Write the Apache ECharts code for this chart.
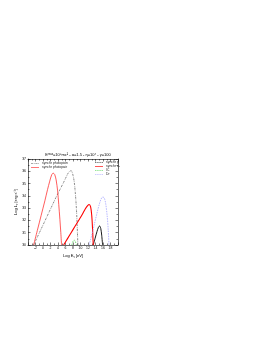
<!DOCTYPE html>
<html><head><meta charset="utf-8">
<script src="https://cdn.jsdelivr.net/npm/echarts@6/dist/echarts.min.js"></script>
<style>html,body{margin:0;padding:0;background:#fff}#c{width:269px;height:341px}</style>
</head><body><div id="c"></div>
<script>
const xTicks = [-4, 20];
const yTicks = [30, 37];
const photopionX = [-2.5, -1.5, -0.5, 0.5, 1.5, 2.5, 3.5, 4.5, 5.5, 6.2, 6.7, 7.1, 7.5, 7.9, 8.3, 8.6, 8.9, 9.1, 9.3];
const photopionY = [30.0, 30.65, 31.3, 31.95, 32.6, 33.25, 33.9, 34.5, 35.1, 35.55, 35.85, 36.0, 36.05, 35.8, 35.2, 34.3, 33.0, 31.7, 30.0];
const photopairX = [-2.5, -1.5, -0.5, 0.5, 1.2, 1.8, 2.3, 2.7, 3.1, 3.5, 3.9, 4.2, 4.5, 4.75, 4.95];
const photopairY = [30.0, 31.2, 32.4, 33.6, 34.5, 35.2, 35.7, 35.85, 35.75, 35.3, 34.4, 33.3, 32.1, 31.0, 30.0];
const synchrPX = [13.4, 13.9, 14.4, 14.8, 15.1, 15.4, 15.65, 15.9];
const synchrPY = [30.0, 30.55, 31.1, 31.45, 31.55, 31.35, 30.8, 30.0];
const synchrEX = [5.5, 6.5, 7.5, 8.5, 9.5, 10.5, 11.3, 11.9, 12.3, 12.7, 13.0, 13.2, 13.4];
const synchrEY = [30.0, 30.5, 31.0, 31.5, 32.0, 32.5, 32.95, 33.2, 33.3, 33.1, 32.4, 31.4, 30.0];
const icX = [7.7, 8.0, 8.3, 8.6, 8.9];
const icY = [30.0, 30.3, 30.4, 30.3, 30.0];
const drX = [12.3, 13.0, 13.7, 14.4, 15.0, 15.5, 15.9, 16.3, 16.7, 17.1, 17.4, 17.6];
const drY = [30.0, 30.8, 31.7, 32.6, 33.3, 33.75, 33.9, 33.85, 33.4, 32.4, 31.2, 30.0];

const zip = (a, b) => a.map((v, i) => [v, b[i]]);
const FONT = 'Liberation Sans, Arial, sans-serif';
const ICON_SOLID = 'path://M0,0H24V2H0Z';
const ICON_DASH = 'path://M0,0H4V2H0Z M6,0H10V2H6Z M12,0H16V2H12Z M18,0H22V2H18Z';
const ICON_DASHDOT = 'path://M0,0H6V2H0Z M8,0H10V2H8Z M12,0H18V2H12Z M20,0H22V2H20Z';
const axisCommon = {
  axisLine: {onZero: false, lineStyle: {color: '#000', width: 0.6}},
  axisTick: {inside: true, length: 2.5, lineStyle: {color: '#000', width: 0.5}},
  minorTick: {show: true, splitNumber: 2, length: 1.5, lineStyle: {color: '#000', width: 0.5}},
  splitLine: {show: false}
};
const legendCommon = {
  orient: 'vertical', itemWidth: 8, itemHeight: 3, itemGap: 1, padding: 0,
  textStyle: {fontSize: 3.4, color: '#222', fontFamily: FONT, padding: [0, 0, 0, -2]}
};
const chart = echarts.init(document.getElementById('c'), null, {renderer: 'canvas'});
chart.setOption({
  animation: false,
  backgroundColor: '#fff',
  title: {
    text: 'E\u1D50\u1D43\u02E3=10\u2078mc\u00B2 - \u03B1=1.5 - \u03B7=10\u2074 - \u03B3=100',
    left: 73, top: 148, textAlign: 'center',
    textStyle: {fontSize: 4, fontWeight: 'normal', color: '#000', fontFamily: FONT}
  },
  grid: {left: 28, right: 151, top: 159, bottom: 96, containLabel: false},
  legend: [
    Object.assign({data: [
      {name: 'synchr photopion', icon: ICON_DASHDOT},
      {name: 'synchr photopair', icon: ICON_SOLID}], left: 31, top: 162}, legendCommon),
    Object.assign({data: [
      {name: 'synchr p', icon: ICON_DASH},
      {name: 'synchr e-', icon: ICON_SOLID},
      {name: 'IC', icon: ICON_DASH},
      {name: 'Dr', icon: ICON_DASH}], left: 95, top: 161}, legendCommon)
  ],
  xAxis: [
    Object.assign({type: 'value', min: xTicks[0], max: xTicks[1], interval: 2, position: 'bottom',
      name: 'Log E\u1D67 [eV]', nameLocation: 'middle', nameGap: 9,
      nameTextStyle: {fontSize: 4, color: '#000', fontFamily: FONT},
      axisLabel: {fontSize: 3.4, color: '#000', margin: 2, fontFamily: FONT, showMinLabel: false, showMaxLabel: false}}, axisCommon),
    Object.assign({type: 'value', min: xTicks[0], max: xTicks[1], interval: 2, position: 'top',
      axisLabel: {show: false}}, axisCommon)
  ],
  yAxis: [
    Object.assign({type: 'value', min: yTicks[0], max: yTicks[1], interval: 1, position: 'left',
      name: 'Log L\u1D67 [erg s\u207B\u00B9]', nameLocation: 'middle', nameGap: 8,
      nameTextStyle: {fontSize: 4, color: '#000', fontFamily: FONT},
      axisLabel: {fontSize: 3.4, color: '#000', margin: 2, fontFamily: FONT}}, axisCommon),
    Object.assign({type: 'value', min: yTicks[0], max: yTicks[1], interval: 1, position: 'right',
      axisLabel: {show: false}}, axisCommon)
  ],
  series: [
    {name: 'synchr photopion', type: 'line', data: zip(photopionX, photopionY), symbol: 'none', smooth: 0.3,
     lineStyle: {color: '#555', width: 0.7, type: [2, 1, 0.6, 1]}, itemStyle: {color: '#555'}},
    {name: 'synchr photopair', type: 'line', data: zip(photopairX, photopairY), symbol: 'none', smooth: 0.3,
     lineStyle: {color: '#ff3333', width: 0.8}, itemStyle: {color: '#ff3333'}},
    {name: 'synchr p', type: 'line', data: zip(synchrPX, synchrPY), symbol: 'none', smooth: 0.3,
     lineStyle: {color: '#000', width: 0.9}, itemStyle: {color: '#000'}},
    {name: 'synchr e-', type: 'line', data: zip(synchrEX, synchrEY), symbol: 'none', smooth: 0.3,
     lineStyle: {color: '#ff0000', width: 1.1}, itemStyle: {color: '#ff0000'}},
    {name: 'IC', type: 'line', data: zip(icX, icY), symbol: 'none', smooth: 0.3,
     lineStyle: {color: '#33cc33', width: 0.7, type: [1.5, 1]}, itemStyle: {color: '#33cc33'}},
    {name: 'Dr', type: 'line', data: zip(drX, drY), symbol: 'none', smooth: 0.3,
     lineStyle: {color: '#9999ff', width: 0.7, type: [1.5, 1]}, itemStyle: {color: '#9999ff'}}
  ]
});
</script></body></html>
